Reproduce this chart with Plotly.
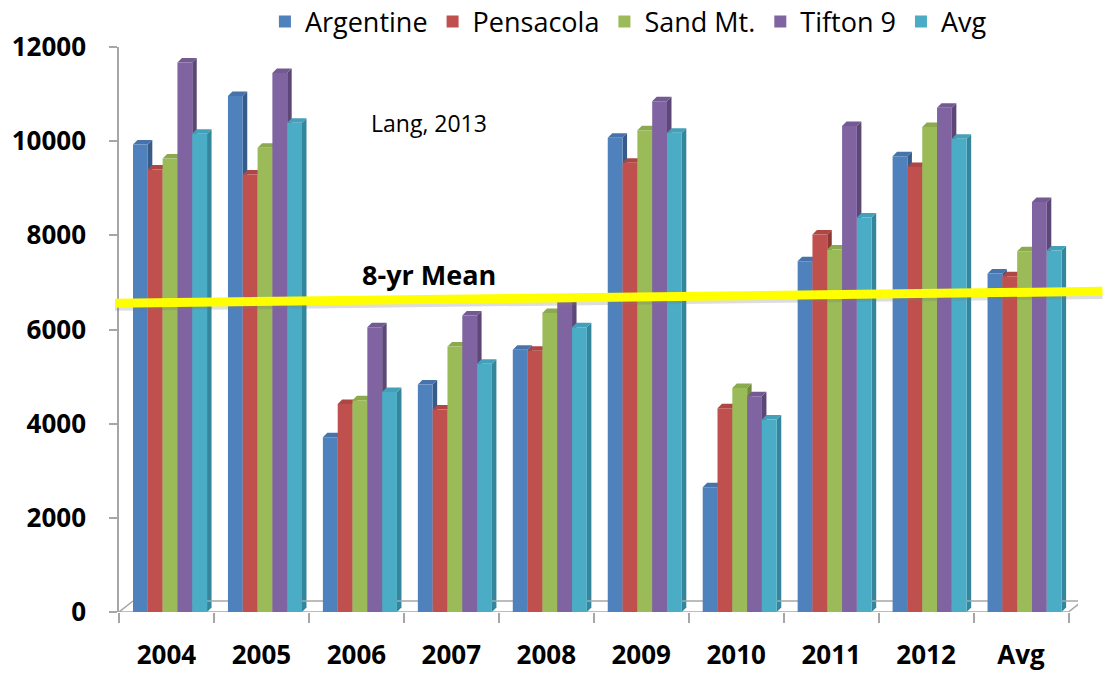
import plotly.graph_objects as go

# ---- data -------------------------------------------------------------
years = ["2004", "2005", "2006", "2007", "2008", "2009", "2010", "2011", "2012", "Avg"]

argentine = [9930, 10960, 3710, 4830, 5570, 10070, 2650, 7450, 9680, 7190]
pensacola = [9400, 9290, 4420, 4300, 5550, 9540, 4330, 8020, 9450, 7130]
sand_mt = [9630, 9860, 4500, 5640, 6350, 10230, 4760, 7700, 10300, 7660]
tifton_9 = [11670, 11450, 6050, 6300, 6660, 10850, 4580, 10320, 10710, 8710]
average = [10160, 10390, 4670, 5270, 6050, 10180, 4090, 8380, 10050, 7680]

series_names = ["Argentine", "Pensacola", "Sand Mt.", "Tifton 9", "Avg"]
series_values = [argentine, pensacola, sand_mt, tifton_9, average]

y_tick_values = [0, 2000, 4000, 6000, 8000, 10000, 12000]

# hand-drawn 8-year mean guide (value at left end, value at right end)
mean_line = [6560, 6810]

# ---- styling ----------------------------------------------------------
W, H = 1109, 673
ML, MR, MT, MB = 119, 30.5, 47, 61
PW, PH = W - ML - MR, H - MT - MB
X_RANGE = [-0.5, 9.6]
Y_RANGE = [0, 12000]
PX_X = PW / (X_RANGE[1] - X_RANGE[0])      # px per x unit
PX_Y = PH / (Y_RANGE[1] - Y_RANGE[0])      # px per y unit

front = ["#4F81BD", "#C0504D", "#9BBB59", "#8064A2", "#4BACC6"]
side = ["#375C89", "#8E3835", "#728B40", "#5C4777", "#33869C"]
top = ["#4673AA", "#AE4744", "#8BAA4E", "#735A93", "#43A0B8"]

BAR_W = 0.156
GROUP_LEFT = -0.3526
DEPTH_X = 4.5 / PX_X          # 3-D face offset, converted to axis units
DEPTH_Y = 4.5 / PX_Y
FLOOR_X = 14 / PX_X
FLOOR_Y = 11 / PX_Y
AXIS_GREY = "#A6A6A6"
FONT = "Open Sans"

positions = list(range(len(years)))

fig = go.Figure()
shapes = []

for j, (name, vals) in enumerate(zip(series_names, series_values)):
    off = GROUP_LEFT + j * BAR_W
    fig.add_trace(go.Bar(
        x=positions, y=vals, name=name,
        width=BAR_W, offset=off,
        marker=dict(color=front[j], line=dict(width=0)),
    ))
    for p, v in zip(positions, vals):
        x0 = p + off
        x1 = x0 + BAR_W
        # right-hand side face
        shapes.append(dict(
            type="path", xref="x", yref="y", layer="below",
            path=f"M{x1},0 L{x1 + DEPTH_X},{DEPTH_Y} L{x1 + DEPTH_X},{v + DEPTH_Y} L{x1},{v} Z",
            fillcolor=side[j], line=dict(width=0),
        ))
        # top face
        shapes.append(dict(
            type="path", xref="x", yref="y", layer="below",
            path=f"M{x0},{v} L{x0 + DEPTH_X},{v + DEPTH_Y} L{x1 + DEPTH_X},{v + DEPTH_Y} L{x1},{v} Z",
            fillcolor=top[j], line=dict(width=0),
        ))

# floor outline
floor_line = dict(color=AXIS_GREY, width=1.5)
shapes += [
    dict(type="line", xref="x", yref="y", layer="below", x0=-0.5, y0=0, x1=9.5, y1=0, line=floor_line),
    dict(type="line", xref="x", yref="y", layer="below", x0=-0.5, y0=0,
         x1=-0.5 + FLOOR_X, y1=FLOOR_Y, line=floor_line),
    dict(type="line", xref="x", yref="y", layer="below", x0=-0.5 + FLOOR_X, y0=FLOOR_Y,
         x1=9.5 + FLOOR_X, y1=FLOOR_Y, line=floor_line),
    dict(type="line", xref="x", yref="y", layer="below", x0=9.5, y0=0,
         x1=9.5 + FLOOR_X, y1=FLOOR_Y, line=floor_line),
]

# 8-yr mean guide with a soft shadow
LINE_X0 = (115 - ML) / PW
LINE_X1 = (1103 - ML) / PW
shapes.append(dict(
    type="line", xref="paper", yref="y", layer="above",
    x0=LINE_X0, x1=LINE_X1, y0=mean_line[0] - 110, y1=mean_line[1] - 110,
    line=dict(color="rgba(120,120,120,0.25)", width=5),
))
shapes.append(dict(
    type="line", xref="paper", yref="y", layer="above",
    x0=LINE_X0, x1=LINE_X1, y0=mean_line[0], y1=mean_line[1],
    line=dict(color="#FFFF00", width=9),
))

fig.add_annotation(x=2.77, y=7173, xref="x", yref="y", text="<b>8-yr Mean</b>",
                   showarrow=False, font=dict(family=FONT, size=27, color="black"))
fig.add_annotation(x=2.77, y=10380, xref="x", yref="y", text="Lang, 2013",
                   showarrow=False, font=dict(family=FONT, size=23, color="black"))

fig.update_layout(
    width=W, height=H,
    margin=dict(l=ML, r=MR, t=MT, b=MB, pad=0, autoexpand=False),
    paper_bgcolor="white", plot_bgcolor="white",
    barmode="overlay",
    shapes=shapes,
    showlegend=True,
    legend=dict(
        orientation="h", x=(265 - ML) / PW, xanchor="left",
        y=1 + (MT - 22) / PH, yanchor="middle",
        font=dict(family=FONT, size=27, color="black"),
        itemwidth=30, bgcolor="rgba(0,0,0,0)",
    ),
    xaxis=dict(
        range=X_RANGE, tickmode="array", tickvals=positions, ticktext=years,
        ticks="", showline=False, showgrid=False, zeroline=False,
        tickfont=dict(family=FONT, size=26, color="black", weight="bold"),
        ticklabelstandoff=25,
        minor=dict(tickmode="array", tickvals=[p - 0.5 for p in positions] + [9.5],
                   ticks="outside", ticklen=10, tickcolor=AXIS_GREY, tickwidth=1.5,
                   showgrid=False),
    ),
    yaxis=dict(
        range=Y_RANGE, tickmode="array", tickvals=y_tick_values,
        ticktext=[str(v) for v in y_tick_values],
        ticks="outside", ticklen=8, tickcolor=AXIS_GREY, tickwidth=1.5,
        showline=True, linecolor=AXIS_GREY, linewidth=1.5,
        showgrid=False, zeroline=False,
        tickfont=dict(family=FONT, size=26, color="black", weight="bold"),
        ticklabelstandoff=18,
    ),
)

fig.write_html("out.html")
